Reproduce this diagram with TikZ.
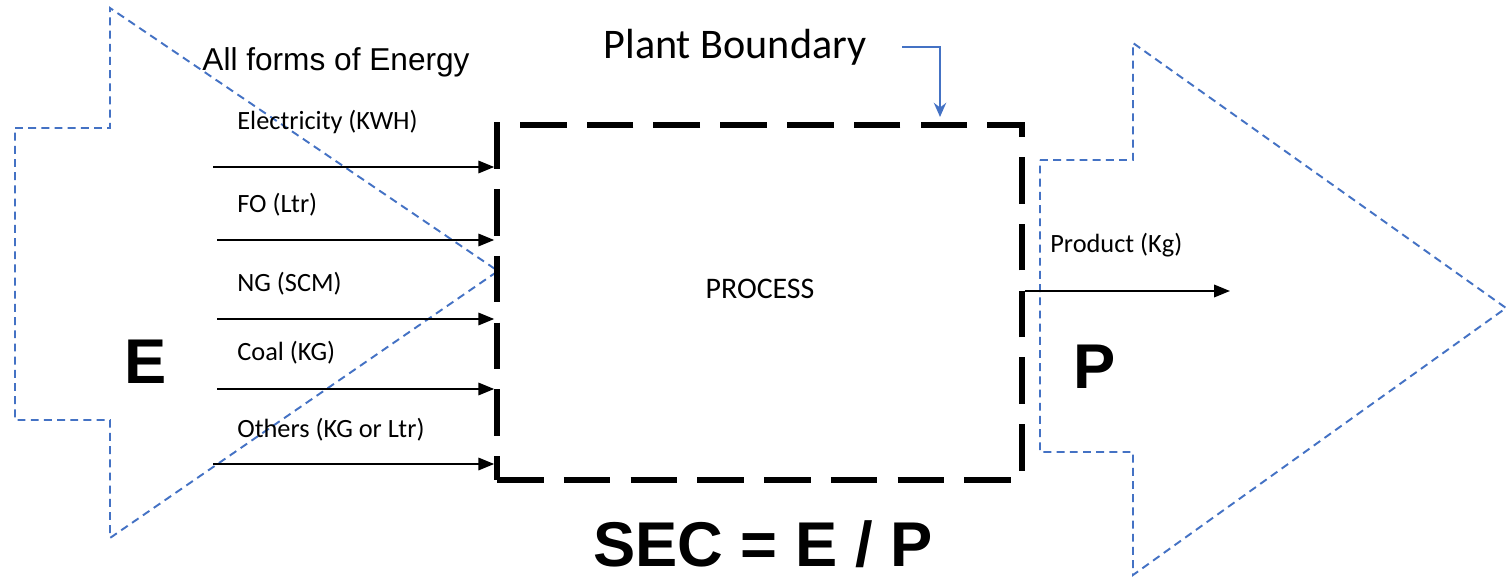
\documentclass[tikz,border=0pt]{standalone}
\usepackage{fontspec}
\setmainfont{Liberation Sans}
\newfontfamily\calibri{Carlito}
\usetikzlibrary{
arrows.meta,
calc,
positioning
}
\tikzset{>={Triangle[length=9pt,width=7pt]}}
\definecolor{bndblue}{RGB}{68,114,196}

\begin{document}
\begin{tikzpicture}[x=0.02cm, y=-0.02cm,
		lbl/.style={font=\calibri\fontsize{15}{18}\selectfont, inner sep=0pt, anchor=base west},
		big/.style={font=\bfseries\fontsize{36}{40}\selectfont, inner sep=0pt, anchor=base},
		flow/.style={draw=bndblue, line width=1.1pt, dash pattern=on 4.5pt off 3pt},
		feed/.style={->, line width=1.3pt}]
		\useasboundingbox (0,0) rectangle (1506,577);
		
		% big arrows: energy in, product out
		\draw[flow] (15,128) -- (110,128) -- (110,8) -- (498,271) -- (110,538) -- (110,420) -- (15,420) -- cycle;
		\draw[flow] (1040,160) -- (1133,160) -- (1133,43) -- (1506,308) -- (1133,575) -- (1133,452) -- (1040,452) -- cycle;
		
		\node[draw, line width=3.2pt, dash pattern=on 26.5pt off 11.5pt, minimum width=10.5cm, minimum height=7.1cm] (plant) at (759.5,302.5) {};
		\node[lbl, font=\calibri\fontsize{17}{20}\selectfont, anchor=base] (proc) at (760,298) {PROCESS};
		
		\node[font=\fontsize{18}{21}\selectfont, inner sep=0pt, anchor=base] (energy) at (336,71) {All forms of Energy};
		\node[font=\calibri\fontsize{24}{28}\selectfont, inner sep=0pt, anchor=base] (bndlbl) at (735,59) {Plant Boundary};
		\coordinate (bnd) at (902,47);
		\coordinate (bndx) at (940,0);
		\draw[-{Stealth[length=8pt,width=7pt]}, bndblue, line width=1.3pt] (bnd) -| ([yshift=3pt]plant.north -| bndx);
		
		\foreach \y/\sx/\ly/\txt [count=\i] in {167/213/130/Electricity (KWH), 240/217/213/FO (Ltr), 319/217/292/NG (SCM), 389/217/360/Coal (KG), 464/213/437/Others (KG or Ltr)} {
			\coordinate (src\i) at (\sx,\y);
			\draw[feed] (src\i) -- (src\i -| plant.west);
			\node[lbl] (fuel\i) at (237,\ly) {\txt};
		}
		
		\node[lbl] (prodlbl) at (1050,253) {Product (Kg)};
		\coordinate (prodend) at (1230,291);
		\draw[feed] (plant.east |- prodend) -- (prodend);
		
		\node[big] (E) at (146,383) {E};
		\node[big] (P) at (1095,388) {P};
		\node[big] (sec) at (763,566) {SEC = E / P};
\end{tikzpicture}
\end{document}
